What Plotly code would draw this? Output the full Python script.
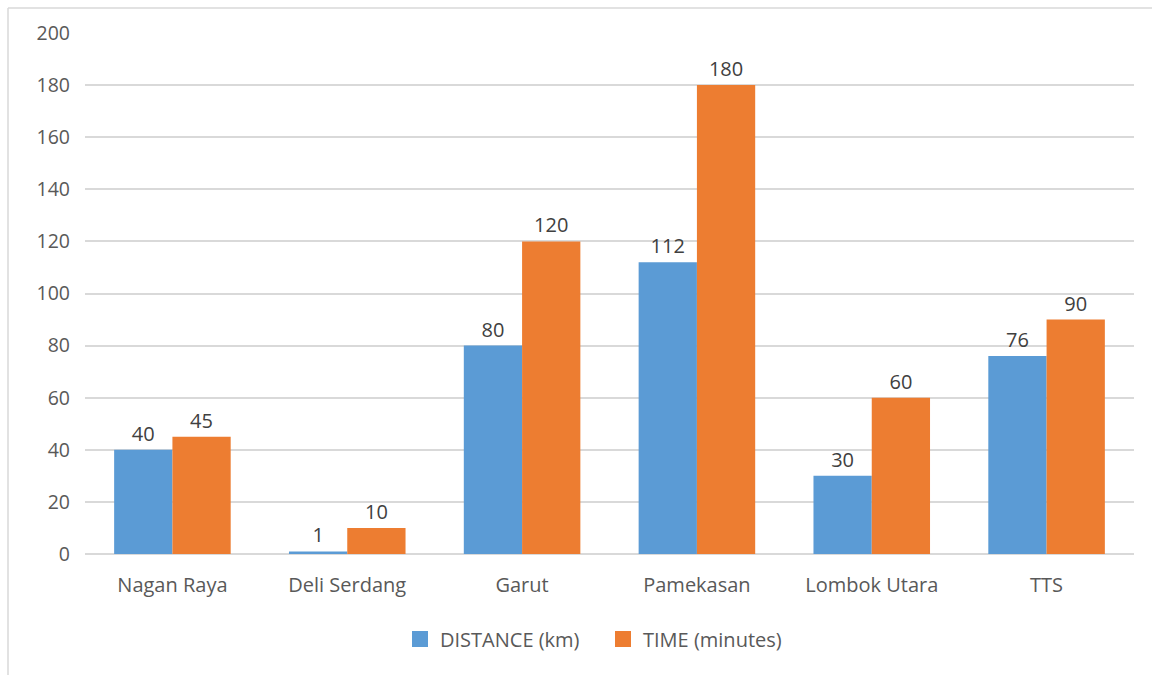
import plotly.graph_objects as go

# Chart data
regions = ["Nagan Raya", "Deli Serdang", "Garut", "Pamekasan", "Lombok Utara", "TTS"]
distance_km = [40, 1, 80, 112, 30, 76]
time_minutes = [45, 10, 120, 180, 60, 90]
y_ticks = [0, 20, 40, 60, 80, 100, 120, 140, 160, 180, 200]
series_names = ["DISTANCE (km)", "TIME (minutes)"]

BLUE = "#5B9BD5"
ORANGE = "#ED7D31"
TEXT = "#595959"
FONT = "Open Sans"
FS = 20

fig = go.Figure()
for name, vals, col in [(series_names[0], distance_km, BLUE), (series_names[1], time_minutes, ORANGE)]:
    fig.add_trace(go.Bar(
        x=regions, y=vals, name=name, showlegend=False, legendgroup=name,
        marker=dict(color=col, line=dict(width=0)),
        text=vals, textposition="outside", cliponaxis=False,
        textfont=dict(family=FONT, size=FS, color="#404040"),
    ))

# legend entries with larger square swatches
for name, col in [(series_names[0], BLUE), (series_names[1], ORANGE)]:
    fig.add_trace(go.Scatter(
        x=[None], y=[None], mode="markers", name=name, legendgroup=name,
        marker=dict(symbol="square", size=16, color=col),
    ))

W, H = 1152, 675
ML, MR, MT, MB = 85, 18, 33, 121
pw = W - ML - MR
ph = H - MT - MB

# outer chart frame (left and top edges)
fx0 = (8 - ML) / pw
fy1 = (H - MB - 8) / ph
frame = dict(color="#D9D9D9", width=1.5)

fig.update_layout(
    width=W, height=H,
    margin=dict(l=ML, r=MR, t=MT, b=MB, pad=0),
    paper_bgcolor="white", plot_bgcolor="white",
    barmode="group", bargap=1/3, bargroupgap=0,
    font=dict(family=FONT, size=FS, color=TEXT),
    showlegend=True,
    legend=dict(
        orientation="h", x=(400 - ML) / pw, xanchor="left", y=(H - MB - 639) / ph, yanchor="middle",
        font=dict(family=FONT, size=FS, color=TEXT),
        itemsizing="trace", traceorder="normal",
        entrywidth=158, entrywidthmode="pixels",
    ),
    xaxis=dict(
        showgrid=False, showline=False, zeroline=False,
        ticks="", ticklabelstandoff=17,
        tickfont=dict(family=FONT, size=FS, color=TEXT),
    ),
    yaxis=dict(
        range=[0, 200], tickvals=y_ticks, ticktext=[str(v) for v in y_ticks],
        showgrid=True, gridcolor="#D9D9D9", gridwidth=1.5,
        zeroline=True, zerolinecolor="#D9D9D9", zerolinewidth=1.5,
        showline=False, ticks="", ticklabelstandoff=14,
        tickfont=dict(family=FONT, size=19.5, color=TEXT),
    ),
    shapes=[
        dict(type="line", xref="paper", yref="paper", x0=fx0, x1=fx0, y0=fy1, y1=-0.5, line=frame),
        dict(type="line", xref="paper", yref="paper", x0=fx0, x1=1.1, y0=fy1, y1=fy1, line=frame),
    ],
)

fig.write_html("out.html")
